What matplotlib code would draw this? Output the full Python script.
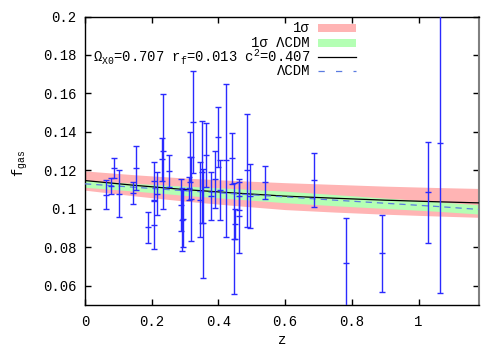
import matplotlib
matplotlib.use('Agg')
import matplotlib.pyplot as plt
from matplotlib.patches import Rectangle
from matplotlib.lines import Line2D

plt.rcParams['font.family'] = ['Liberation Mono', 'DejaVu Sans']
plt.rcParams['mathtext.fontset'] = 'custom'
plt.rcParams['mathtext.rm'] = 'Liberation Mono'
plt.rcParams['mathtext.it'] = 'Liberation Mono'
plt.rcParams['mathtext.bf'] = 'Liberation Mono'

# ---- data (cluster gas fractions) ----
z_data = [0.063, 0.078, 0.088, 0.103, 0.143, 0.152, 0.188, 0.206, 0.208, 0.215,
          0.230, 0.235, 0.252, 0.288, 0.291, 0.295, 0.313, 0.314, 0.318, 0.324,
          0.345, 0.352, 0.355, 0.363, 0.378, 0.391, 0.399, 0.404, 0.423, 0.442,
          0.447, 0.451, 0.461, 0.461, 0.487, 0.494, 0.539, 0.686, 0.782, 0.891,
          1.028, 1.063]
f_data = [0.1074, 0.1117, 0.1211, 0.1079, 0.1082, 0.1213, 0.0903, 0.1144, 0.0917, 0.1079,
          0.1257, 0.1299, 0.1197, 0.1020, 0.0943, 0.0949, 0.1106, 0.1268, 0.1052, 0.1452,
          0.1048, 0.1193, 0.0925, 0.1280, 0.1067, 0.1153, 0.1375, 0.1097, 0.1253, 0.1262,
          0.0845, 0.0922, 0.1067, 0.0964, 0.1200, 0.1067, 0.1139, 0.1150, 0.0717, 0.0768,
          0.1085, 0.1340]
f_err = [0.0075, 0.0042, 0.0053, 0.0124, 0.0055, 0.0116, 0.0080, 0.0102, 0.0127, 0.0111,
         0.0110, 0.0299, 0.0082, 0.0133, 0.0163, 0.0147, 0.0061, 0.0131, 0.0220, 0.0265,
         0.0196, 0.0266, 0.0283, 0.0167, 0.0125, 0.0149, 0.0155, 0.0156, 0.0398, 0.0131,
         0.0290, 0.0077, 0.0075, 0.0193, 0.0293, 0.0167, 0.0086, 0.0139, 0.0235, 0.0198,
         0.0261, 0.0777]

# ---- model curves ----
z_model = [0.0, 0.15, 0.30, 0.45, 0.60, 0.75, 0.90, 1.05, 1.18]
f_model = [0.1147, 0.1122, 0.1100, 0.1082, 0.1066, 0.1055, 0.1045, 0.1037, 0.1031]
f_lcdm = [0.1130, 0.1112, 0.1094, 0.1078, 0.1062, 0.1045, 0.1029, 0.1013, 0.0997]
red_hi = [0.1197, 0.1177, 0.1160, 0.1147, 0.1136, 0.1127, 0.1118, 0.1111, 0.1106]
red_lo = [0.1097, 0.1067, 0.1040, 0.1017, 0.0996, 0.0983, 0.0972, 0.0963, 0.0956]
green_hi = [0.1148, 0.1132, 0.1118, 0.1105, 0.1092, 0.1074, 0.1056, 0.1038, 0.1021]
green_lo = [0.1112, 0.1092, 0.1070, 0.1051, 0.1032, 0.1016, 0.1002, 0.0988, 0.0973]

xticks = [0, 0.2, 0.4, 0.6, 0.8, 1.0]
xticklabels = ['0', '0.2', '0.4', '0.6', '0.8', '1']
yticks = [0.06, 0.08, 0.10, 0.12, 0.14, 0.16, 0.18, 0.20]
yticklabels = ['0.06', '0.08', '0.1', '0.12', '0.14', '0.16', '0.18', '0.2']

PINK = '#ffb4b4'
GREEN = '#b4ffb4'
BLUE = '#2a2aff'
DASH = '#5a7be0'

W, H = 500, 350
fig = plt.figure(figsize=(5, 3.5), dpi=100)
ax = fig.add_axes([85 / W, 1 - 305 / H, (479 - 85) / W, (305 - 16.5) / H])

ax.fill_between(z_model, red_lo, red_hi, color=PINK, lw=0, zorder=1)
ax.fill_between(z_model, green_lo, green_hi, color=GREEN, lw=0, zorder=2)
ax.plot(z_model, f_model, color='black', lw=0.9, zorder=4)
ax.plot(z_model, f_lcdm, color=DASH, lw=0.9, dashes=(5, 4), zorder=4)
ax.errorbar(z_data, f_data, yerr=f_err, fmt='_', color=BLUE, ms=4.5, mew=1,
            elinewidth=1, capsize=2.2, capthick=1, zorder=5)

ax.set_xlim(0, 1.181)
ax.set_ylim(0.05, 0.2)
ax.set_xticks(xticks)
ax.set_xticklabels(xticklabels)
ax.set_yticks(yticks)
ax.set_yticklabels(yticklabels)
ax.tick_params(direction='in', length=4, width=1, top=True, right=True,
               labelsize=10, pad=7, colors='black')
ax.tick_params(axis='y', pad=6)
for s in ['left', 'bottom', 'top']:
    ax.spines[s].set_linewidth(1)
    ax.spines[s].set_color('black')
ax.spines['right'].set_color('#808080')
ax.spines['right'].set_linewidth(1.5)

# axis labels
fig.text(20 / W, 1 - 163 / H, r'f$_{\mathrm{gas}}$', rotation=90, ha='center', va='center', fontsize=10)
fig.text(282 / W, 1 - 340 / H, 'z', ha='center', va='center', fontsize=10)

# legend (manual, gnuplot style)
rows = [28, 42.7, 56.7, 70.7]
labels = ['1σ', '1σ ΛCDM', r'$\mathrm{\Omega_{X0}}$=0.707 r$_\mathrm{f}$=0.013 c$^2$=0.407', 'ΛCDM']
for y, lab in zip(rows, labels):
    fig.text(310 / W, 1 - y / H, lab, ha='right', va='center', fontsize=10, zorder=10)
x0, x1 = 318 / W, 356 / W
fig.patches.append(Rectangle((x0, 1 - (rows[0] + 4) / H), x1 - x0, 8 / H,
                             transform=fig.transFigure, color=PINK, lw=0))
fig.patches.append(Rectangle((x0, 1 - (rows[1] + 4) / H), x1 - x0, 8 / H,
                             transform=fig.transFigure, color=GREEN, lw=0))
fig.lines.append(Line2D([x0, x1], [1 - rows[2] / H] * 2, transform=fig.transFigure,
                        color='black', lw=0.9))
fig.lines.append(Line2D([x0, x1], [1 - rows[3] / H] * 2, transform=fig.transFigure,
                        color=DASH, lw=0.9, dashes=(5, 9)))

fig.savefig('out.png', dpi=100)
